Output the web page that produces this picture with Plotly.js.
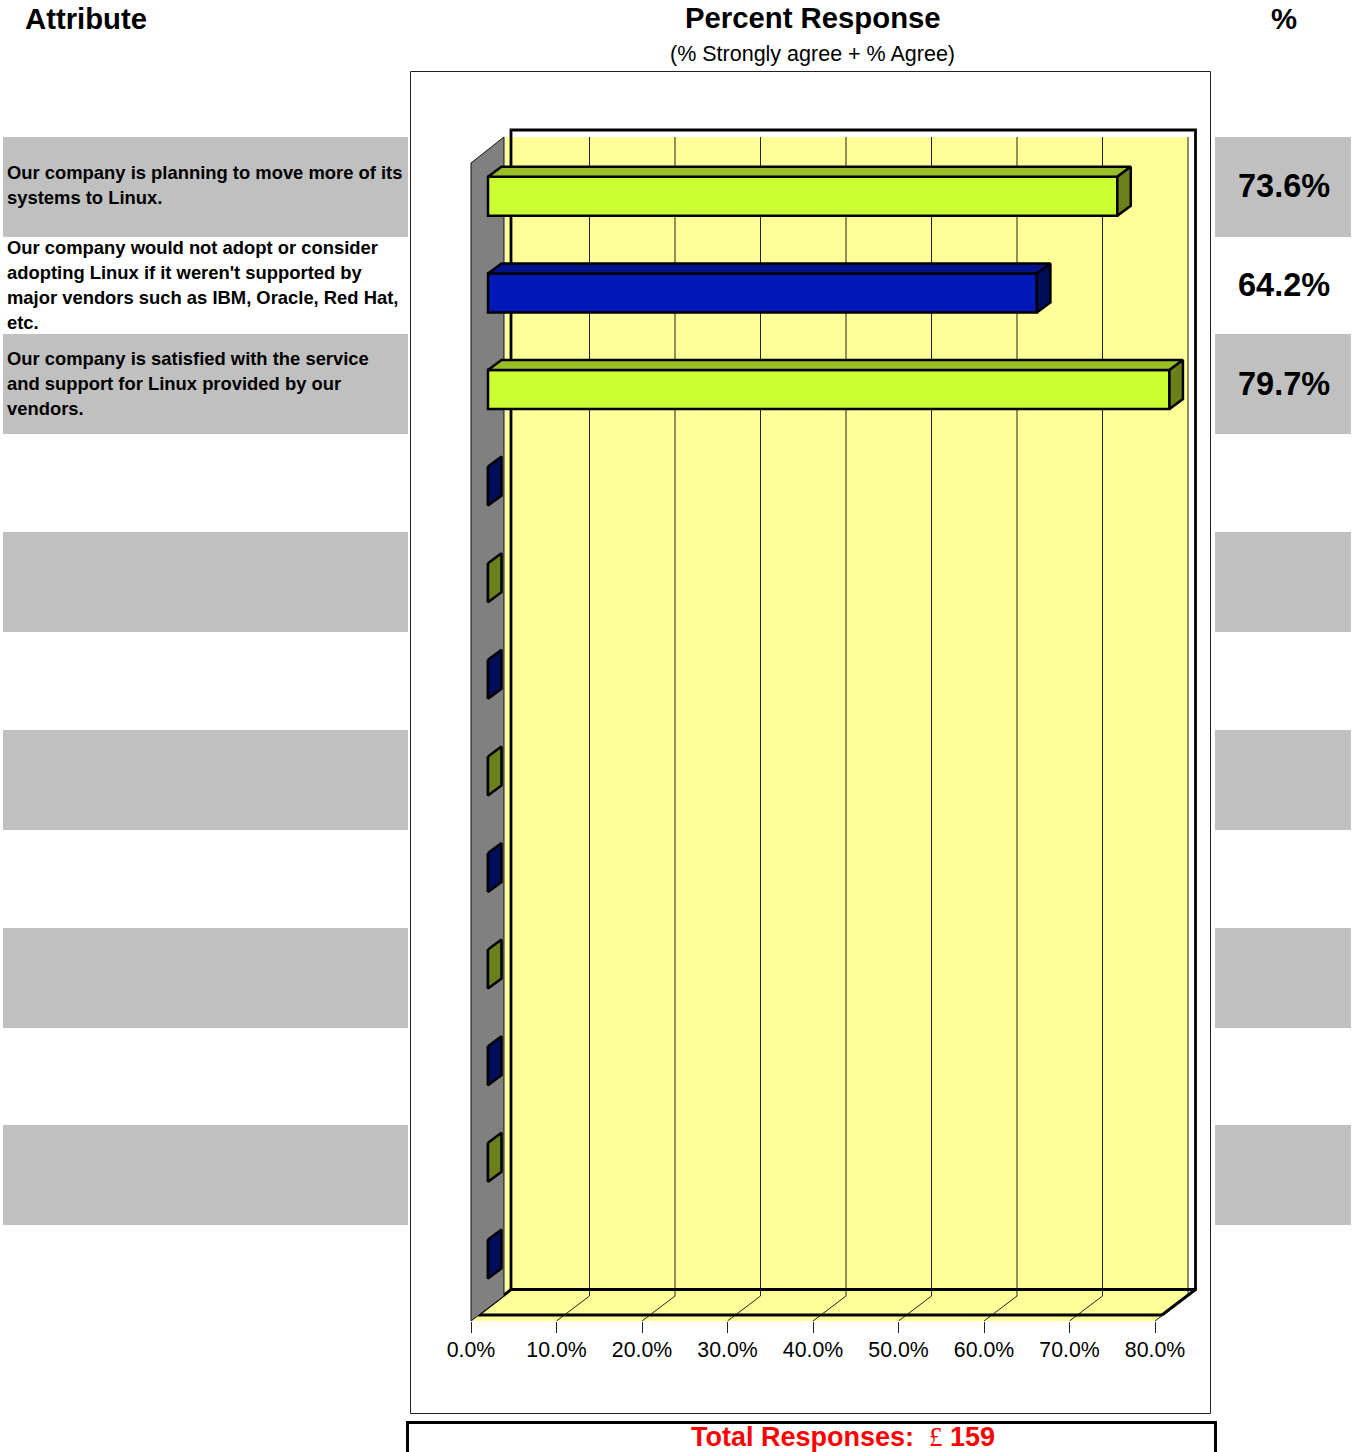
<!DOCTYPE html>
<html>
<head>
<meta charset="utf-8">
<script src="https://cdn.plot.ly/plotly-3.0.1.min.js"></script>
<style>html,body{margin:0;padding:0;background:#fff;overflow:hidden}#c{width:1355px;height:1452px}</style>
</head>
<body>
<div id="c"></div>
<script>
const categories = [
  "Our company is planning to move more of its<br>systems to Linux.",
  "Our company would not adopt or consider<br>adopting Linux if it weren't supported by<br>major vendors such as IBM, Oracle, Red Hat,<br>etc.",
  "Our company is satisfied with the service<br>and support for Linux provided by our<br>vendors."
];
const values = [73.6, 64.2, 79.7, 0, 0, 0, 0, 0, 0, 0, 0, 0];
const valueLabels = ["73.6%", "64.2%", "79.7%"];
const tickValues = [0, 10, 20, 30, 40, 50, 60, 70, 80];
const tickLabels = ["0.0%", "10.0%", "20.0%", "30.0%", "40.0%", "50.0%", "60.0%", "70.0%", "80.0%"];
const faceColors = ["#CCFF33", "#0019B8"];
const topColors = ["#99BF26", "#00138A"];
const sideColors = ["#6B801A", "#000D5C"];

const W = 1355, H = 1452;
const L = 465, R = 1201, T = 125, B = 1321;
const zeroPx = 471, pxPerUnit = 8.55, rowTopPx = 163, rowPx = 96.6;
const dX = px => px / pxPerUnit;           // px length -> value units
const dY = px => px / rowPx;               // px length -> row units
const X = px => (px - zeroPx) / pxPerUnit;
const Y = px => (px - rowTopPx) / rowPx;
const PX = px => (px - L) / (R - L);       // page px -> paper
const PY = py => 1 - (py - T) / (B - T);

const base = dX(17), barH = dY(39), lift = dY(15), depthX = dX(13.5), depthY = dY(10);

const rows = values.map((_, i) => i + 0.5 - lift);
const traces = [];
traces.push({
  type: 'bar', orientation: 'h', y: rows, x: values, base: values.map(() => base),
  width: barH, hoverinfo: 'skip', showlegend: false,
  marker: { color: values.map((_, i) => faceColors[i % 2]), line: { color: '#000', width: 2.5 } }
});
values.forEach((v, i) => {
  const y0 = rows[i] - barH / 2, y1 = rows[i] + barH / 2, x0 = base, x1 = base + v, c = i % 2;
  if (v > 0) traces.push({
    type: 'scatter', mode: 'lines', fill: 'toself', fillcolor: topColors[c], hoverinfo: 'skip', showlegend: false,
    x: [x0, x1, x1 + depthX, x0 + depthX, x0], y: [y0, y0, y0 - depthY, y0 - depthY, y0],
    line: { color: '#000', width: 2.5 }
  });
  traces.push({
    type: 'scatter', mode: 'lines', fill: 'toself', fillcolor: sideColors[c], hoverinfo: 'skip', showlegend: false,
    x: [x1, x1 + depthX, x1 + depthX, x1, x1], y: [y0, y0 - depthY, y1 - depthY, y1, y0],
    line: { color: '#000', width: 2.5 }
  });
});

const shapes = [];
const pageRect = (x0, y0, x1, y1, fill, line) => shapes.push({
  type: 'rect', xref: 'paper', yref: 'paper', layer: 'below',
  x0: PX(x0), x1: PX(x1), y0: PY(y0), y1: PY(y1),
  fillcolor: fill, line: line || { width: 0 }
});
[137, 334, 532, 730, 928, 1125].forEach(t => {
  pageRect(3, t, 408, t + 100, '#C0C0C0');
  pageRect(1215, t, 1351, t + 100, '#C0C0C0');
});
pageRect(410.5, 71.5, 1210.5, 1413.5, 'rgba(0,0,0,0)', { color: '#222', width: 1 });
pageRect(407.5, 1422.5, 1215.5, 1470, 'rgba(0,0,0,0)', { color: '#000', width: 3 });

const poly = (pts, fill, line) => shapes.push({
  type: 'path', xref: 'x', yref: 'y', layer: 'below',
  path: pts.map((p, i) => (i ? 'L' : 'M') + X(p[0]) + ',' + Y(p[1])).join(' ') + (fill ? ' Z' : ''),
  fillcolor: fill || 'rgba(0,0,0,0)', line: line || { width: 0 }
});
const thick = { color: '#000', width: 2.8 }, thin = { color: '#222', width: 1 };
poly([[505, 137], [1189, 137], [1189, 1296], [505, 1296]], '#FFFF99');
poly([[471, 1321], [505, 1296], [1189, 1296], [1155, 1321]], '#FFFF99');
// grid lines run across the floor then up the back wall
tickValues.forEach(v => {
  if (!v) return;
  const px = zeroPx + v * pxPerUnit;
  poly([[px, 1321], [px + 33, 1296], [px + 33, 137]], null, thin);
});
poly([[511, 1289.5], [511, 130], [1195.5, 130], [1195.5, 1289.5], [511, 1289.5]], null, thick);
poly([[478, 1315], [511, 1289.5]], null, { color: '#000', width: 3 });
poly([[1162, 1315], [1195.5, 1289.5]], null, { color: '#000', width: 3 });
poly([[478, 1315], [1162, 1315]], null, thick);
poly([[471, 163], [504, 137], [504, 1296], [471, 1321]], '#808080', { color: '#111', width: 1 });

const font = 'Liberation Sans, Arial, sans-serif';
const annotations = [];
const note = (text, x, y, size, opts) => annotations.push(Object.assign({
  text, x: PX(x), y: PY(y), xref: 'paper', yref: 'paper', showarrow: false,
  xanchor: 'center', yanchor: 'middle', align: 'center', borderpad: 0,
  font: { family: font, size, color: '#000' }
}, opts || {}));
note('<b>Attribute</b>', 86, 19, 29.3);
note('<b>Percent Response</b>', 813, 18, 29.3);
note('<b>%</b>', 1284, 19, 29.3);
note('(% Strongly agree + % Agree)', 812.5, 54, 21.5);
const firstLineCentres = [172.5, 247.5, 358.5];
const valueCentres = [186, 285, 384];
categories.forEach((c, i) => c.split('<br>').forEach((line, k) =>
  note('<b>' + line + '</b>', 6, firstLineCentres[i] + 25 * k, 18.4, { xanchor: 'left', align: 'left' })));
valueLabels.forEach((t, i) => note('<b>' + t + '</b>', 1284, valueCentres[i], 32.5));
note('<b>Total Responses:  <span style="font-family:\'Liberation Serif\';font-weight:normal">£</span> 159</b>', 843, 1437, 27,
  { font: { family: font, size: 27, color: '#FF0000' } });

Plotly.newPlot('c', traces, {
  width: W, height: H,
  margin: { l: L, r: W - R, t: T, b: H - B, pad: 0 },
  paper_bgcolor: '#fff', plot_bgcolor: 'rgba(0,0,0,0)',
  showlegend: false, barmode: 'overlay',
  xaxis: {
    range: [X(L), X(R)], tickmode: 'array', tickvals: tickValues, ticktext: tickLabels,
    ticks: 'outside', ticklen: 11, tickwidth: 1, tickcolor: '#222', ticklabelstandoff: -2,
    showgrid: false, zeroline: false, showline: false, fixedrange: true,
    tickfont: { family: font, size: 21.3, color: '#000' }
  },
  yaxis: {
    range: [Y(B), Y(T)], showticklabels: false, ticks: '', showgrid: false,
    zeroline: false, showline: false, fixedrange: true
  },
  shapes, annotations
}, { displayModeBar: false, staticPlot: true });
</script>
</body>
</html>
